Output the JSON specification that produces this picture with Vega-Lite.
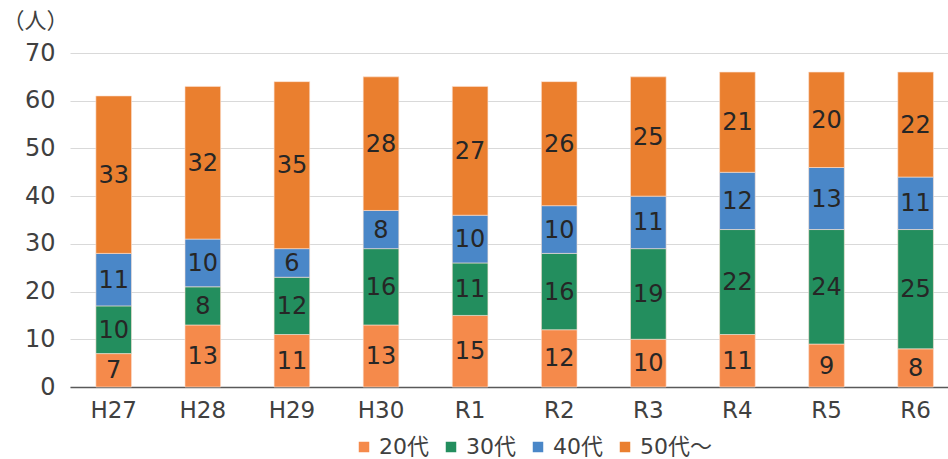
{
  "$schema": "https://vega.github.io/schema/vega-lite/v6.json",
  "width": 878,
  "height": 334,
  "autosize": {"type": "none"},
  "padding": {"left": 70, "top": 53, "right": 0, "bottom": 72},
  "background": "white",
  "config": {
    "view": {"stroke": null},
    "font": "DejaVu Sans, Noto Sans CJK JP",
    "text": {"font": "DejaVu Sans, Noto Sans CJK JP"}
  },
  "data": {
    "values": [
      {"year": "H27", "age": "20代", "order": 1, "n": 7},
      {"year": "H27", "age": "30代", "order": 2, "n": 10},
      {"year": "H27", "age": "40代", "order": 3, "n": 11},
      {"year": "H27", "age": "50代～", "order": 4, "n": 33},
      {"year": "H28", "age": "20代", "order": 1, "n": 13},
      {"year": "H28", "age": "30代", "order": 2, "n": 8},
      {"year": "H28", "age": "40代", "order": 3, "n": 10},
      {"year": "H28", "age": "50代～", "order": 4, "n": 32},
      {"year": "H29", "age": "20代", "order": 1, "n": 11},
      {"year": "H29", "age": "30代", "order": 2, "n": 12},
      {"year": "H29", "age": "40代", "order": 3, "n": 6},
      {"year": "H29", "age": "50代～", "order": 4, "n": 35},
      {"year": "H30", "age": "20代", "order": 1, "n": 13},
      {"year": "H30", "age": "30代", "order": 2, "n": 16},
      {"year": "H30", "age": "40代", "order": 3, "n": 8},
      {"year": "H30", "age": "50代～", "order": 4, "n": 28},
      {"year": "R1", "age": "20代", "order": 1, "n": 15},
      {"year": "R1", "age": "30代", "order": 2, "n": 11},
      {"year": "R1", "age": "40代", "order": 3, "n": 10},
      {"year": "R1", "age": "50代～", "order": 4, "n": 27},
      {"year": "R2", "age": "20代", "order": 1, "n": 12},
      {"year": "R2", "age": "30代", "order": 2, "n": 16},
      {"year": "R2", "age": "40代", "order": 3, "n": 10},
      {"year": "R2", "age": "50代～", "order": 4, "n": 26},
      {"year": "R3", "age": "20代", "order": 1, "n": 10},
      {"year": "R3", "age": "30代", "order": 2, "n": 19},
      {"year": "R3", "age": "40代", "order": 3, "n": 11},
      {"year": "R3", "age": "50代～", "order": 4, "n": 25},
      {"year": "R4", "age": "20代", "order": 1, "n": 11},
      {"year": "R4", "age": "30代", "order": 2, "n": 22},
      {"year": "R4", "age": "40代", "order": 3, "n": 12},
      {"year": "R4", "age": "50代～", "order": 4, "n": 21},
      {"year": "R5", "age": "20代", "order": 1, "n": 9},
      {"year": "R5", "age": "30代", "order": 2, "n": 24},
      {"year": "R5", "age": "40代", "order": 3, "n": 13},
      {"year": "R5", "age": "50代～", "order": 4, "n": 20},
      {"year": "R6", "age": "20代", "order": 1, "n": 8},
      {"year": "R6", "age": "30代", "order": 2, "n": 25},
      {"year": "R6", "age": "40代", "order": 3, "n": 11},
      {"year": "R6", "age": "50代～", "order": 4, "n": 22}
    ]
  },
  "transform": [
    {"stack": "n", "groupby": ["year"], "sort": [{"field": "order", "order": "ascending"}], "as": ["n0", "n1"]},
    {"calculate": "(datum.n0 + datum.n1) / 2", "as": "mid"}
  ],
  "encoding": {
    "x": {
      "field": "year",
      "type": "nominal",
      "sort": null,
      "scale": {"paddingInner": 0.6, "paddingOuter": 0.227, "align": 0.64},
      "axis": {
        "title": null,
        "labelAngle": 0,
        "labelFont": "DejaVu Sans",
        "labelFontSize": 23,
        "labelColor": "#404040",
        "labelPadding": 12,
        "ticks": false,
        "domainColor": "#595959",
        "domainWidth": 1.5,
        "grid": false
      }
    }
  },
  "layer": [
    {
      "mark": {"type": "bar", "stroke": "#fbe3d4", "strokeWidth": 0.6},
      "encoding": {
        "y": {
          "field": "n0",
          "type": "quantitative",
          "scale": {"domain": [0, 70], "nice": false},
          "axis": {
            "values": [0, 10, 20, 30, 40, 50, 60, 70],
            "title": "（人）",
            "titleAngle": 0,
            "titleX": -68,
            "titleY": -33,
            "titleAlign": "left",
            "titleBaseline": "middle",
            "titleFont": "Noto Sans CJK JP",
            "titleFontSize": 22,
            "titleFontWeight": "normal",
            "titleColor": "#404040",
            "labelFont": "DejaVu Sans",
            "labelFontSize": 24,
            "labelColor": "#404040",
            "labelPadding": 15,
            "ticks": false,
            "domain": false,
            "gridColor": "#d9d9d9",
            "gridWidth": 1
          }
        },
        "y2": {"field": "n1"},
        "color": {
          "field": "age",
          "type": "nominal",
          "sort": ["20代", "30代", "40代", "50代～"],
          "scale": {
            "domain": ["20代", "30代", "40代", "50代～"],
            "range": ["#F58A4B", "#238E5E", "#4A87C8", "#EA7F2F"]
          },
          "legend": {
            "title": null,
            "orient": "none",
            "direction": "horizontal",
            "legendX": 283,
            "legendY": 383,
            "symbolType": "square",
            "symbolSize": 110,
            "symbolStrokeWidth": 0,
            "labelFont": "DejaVu Sans, Noto Sans CJK JP",
            "labelFontSize": 22,
            "labelColor": "#404040",
            "labelOffset": 4,
            "columnPadding": 11
          }
        }
      }
    },
    {
      "mark": {"type": "text", "font": "DejaVu Sans", "fontSize": 24, "color": "#262626", "baseline": "middle", "dy": 1},
      "encoding": {
        "y": {"field": "mid", "type": "quantitative"},
        "text": {"field": "n", "type": "quantitative"}
      }
    }
  ]
}
